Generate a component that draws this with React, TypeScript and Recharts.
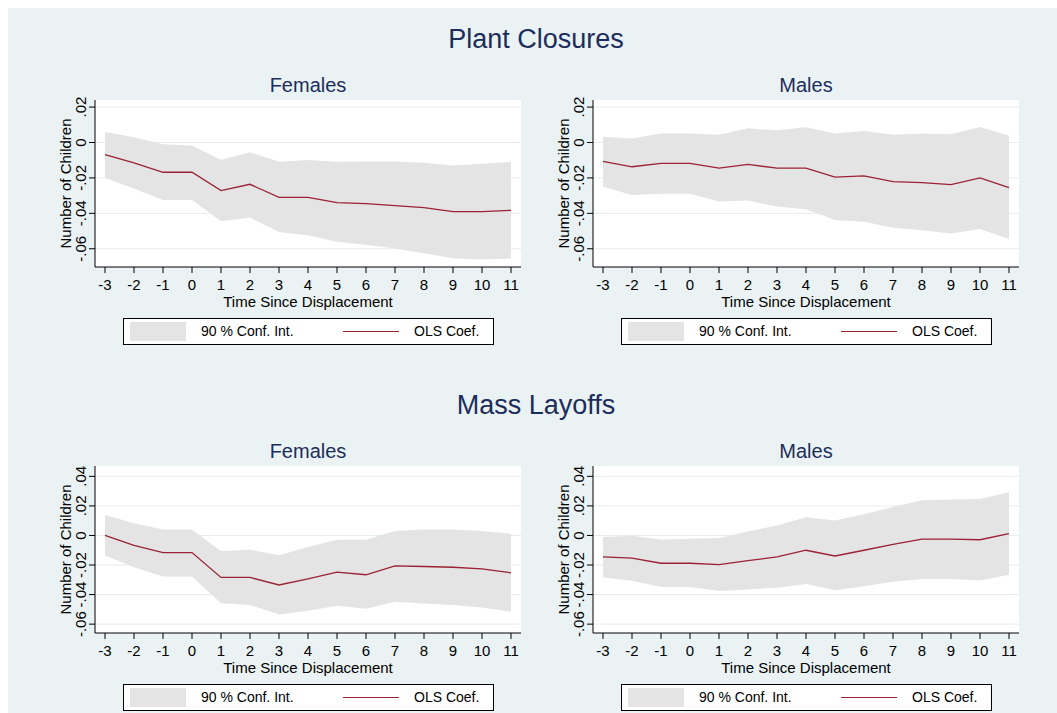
import { ComposedChart, Area, Line, XAxis, YAxis, CartesianGrid } from 'recharts'

const periods = [-3, -2, -1, 0, 1, 2, 3, 4, 5, 6, 7, 8, 9, 10, 11]

// Plant closures
const pcFemCoef = [-0.0069, -0.0115, -0.0168, -0.0168, -0.0272, -0.0236, -0.031, -0.031, -0.034, -0.0345, -0.0357, -0.0368, -0.039, -0.039, -0.0383]
const pcFemHigh = [0.006, 0.003, -0.001, -0.0017, -0.0097, -0.0055, -0.0109, -0.0099, -0.0109, -0.0107, -0.0107, -0.0114, -0.013, -0.012, -0.011]
const pcFemLow = [-0.02, -0.026, -0.0324, -0.0324, -0.0444, -0.0423, -0.0505, -0.0524, -0.056, -0.0577, -0.0598, -0.0625, -0.0653, -0.066, -0.0655]
const pcMalCoef = [-0.0107, -0.0137, -0.0118, -0.0118, -0.0145, -0.0124, -0.0145, -0.0145, -0.0196, -0.0189, -0.0221, -0.0227, -0.0238, -0.02, -0.0255]
const pcMalHigh = [0.0032, 0.0023, 0.0051, 0.0051, 0.0044, 0.008, 0.0069, 0.0086, 0.0051, 0.0065, 0.0044, 0.0051, 0.0046, 0.0088, 0.0038]
const pcMalLow = [-0.025, -0.0297, -0.029, -0.029, -0.0333, -0.0328, -0.0362, -0.0377, -0.0438, -0.0448, -0.0482, -0.0495, -0.0514, -0.0488, -0.0545]

// Mass layoffs
const mlFemCoef = [0, -0.0067, -0.0116, -0.0116, -0.0284, -0.0284, -0.0335, -0.0293, -0.0248, -0.0266, -0.0206, -0.021, -0.0215, -0.0226, -0.0253]
const mlFemHigh = [0.0139, 0.0083, 0.004, 0.004, -0.0107, -0.0096, -0.0134, -0.0078, -0.0029, -0.0029, 0.0031, 0.004, 0.004, 0.0031, 0.0011]
const mlFemLow = [-0.0136, -0.0215, -0.0277, -0.0277, -0.0458, -0.047, -0.0534, -0.051, -0.0476, -0.0496, -0.0449, -0.046, -0.047, -0.0487, -0.0516]
const mlMalCoef = [-0.0145, -0.0154, -0.0188, -0.0188, -0.0197, -0.017, -0.0145, -0.01, -0.0139, -0.01, -0.006, -0.0025, -0.0025, -0.0029, 0.0013]
const mlMalHigh = [-0.0011, -0.0002, -0.0027, -0.0022, -0.0018, 0.0027, 0.0067, 0.0123, 0.0101, 0.0143, 0.0192, 0.0239, 0.0244, 0.0246, 0.0293]
const mlMalLow = [-0.0282, -0.0306, -0.0349, -0.0349, -0.0375, -0.0366, -0.0353, -0.0329, -0.0371, -0.0344, -0.0313, -0.0295, -0.0295, -0.0304, -0.0266]

const pcTicks = [-0.06, -0.04, -0.02, 0, 0.02]
const mlTicks = [-0.06, -0.04, -0.02, 0, 0.02, 0.04]

const NAVY = '#1c2d5c'
const LINE = '#9b2232'
const BAND = '#e4e4e4'
const FONT = '"Liberation Sans", Arial, sans-serif'

const fmt = (v: number) => {
  if (v === 0) return '0'
  const s = Math.abs(v).toFixed(2).replace(/^0/, '')
  return (v < 0 ? '-' : '') + s
}

function YTick(props: any) {
  const { x, y, payload } = props
  const bx = x - 1
  return (
    <text x={bx} y={y} transform={`rotate(-90, ${bx}, ${y})`} textAnchor="middle" fontSize={15} fill="#000" fontFamily={FONT}>
      {fmt(payload.value)}
    </text>
  )
}

function Panel({ left, top, title, coef, high, low, ticks, domain }: any) {
  const data = periods.map((p, i) => ({ t: p, coef: coef[i], band: [low[i], high[i]] }))
  return (
    <div style={{ position: 'absolute', left, top, width: 520 }}>
      <div style={{ textAlign: 'center', paddingLeft: 75, paddingRight: 19, fontSize: 20, color: NAVY, fontFamily: FONT, height: 0, position: 'relative', top: -16 }}>{title}</div>
      <ComposedChart width={520} height={221} data={data} margin={{ top: 10, right: 19, left: 0, bottom: 0 }}>
        <CartesianGrid vertical={false} fill="#ffffff" stroke="#e4ecee" horizontalValues={ticks} />
        <XAxis
          dataKey="t"
          type="number"
          domain={[-3, 11]}
          ticks={periods}
          interval={0}
          padding={{ left: 10, right: 10 }}
          stroke="#000"
          tick={{ fill: '#000', fontSize: 15, fontFamily: FONT }}
          tickSize={6}
          tickMargin={6}
          height={44}
          label={{ value: 'Time Since Displacement', position: 'insideBottom', offset: 4, fill: '#000', fontSize: 15, fontFamily: FONT }}
        />
        <YAxis
          type="number"
          domain={domain}
          ticks={ticks}
          allowDataOverflow
          stroke="#000"
          width={75}
          tickSize={6}
          tick={<YTick />}
          label={{ value: 'Number of Children', angle: -90, position: 'insideLeft', offset: 46, fill: '#000', fontSize: 15, fontFamily: FONT, style: { textAnchor: 'middle' } }}
        />
        <Area dataKey="band" type="linear" stroke="none" fill={BAND} fillOpacity={1} isAnimationActive={false} />
        <Line dataKey="coef" type="linear" stroke={LINE} strokeWidth={1.3} dot={false} isAnimationActive={false} />
      </ComposedChart>
      <div style={{ position: 'absolute', left: 103, top: 228, width: 369, height: 25, background: '#fff', border: '1px solid #000', fontFamily: FONT, fontSize: 14 }}>
        <div style={{ position: 'absolute', left: 6, top: 3, width: 56, height: 19, background: BAND }} />
        <div style={{ position: 'absolute', left: 77, top: 4 }}>90 % Conf. Int.</div>
        <div style={{ position: 'absolute', left: 219, top: 12, width: 56, height: 0, borderTop: `1.5px solid ${LINE}` }} />
        <div style={{ position: 'absolute', left: 290, top: 4 }}>OLS Coef.</div>
      </div>
    </div>
  )
}

export default function App() {
  return (
    <div style={{ position: 'absolute', left: 0, top: 0, width: 1057, height: 713, background: '#fff' }}>
      <div style={{ position: 'absolute', left: 8, top: 8, width: 1049, height: 705, background: '#eaf2f3' }} />
      <div style={{ position: 'absolute', left: 0, top: 24, width: 1072, textAlign: 'center', fontSize: 27, color: NAVY, fontFamily: FONT }}>Plant Closures</div>
      <div style={{ position: 'absolute', left: 0, top: 390, width: 1072, textAlign: 'center', fontSize: 27, color: NAVY, fontFamily: FONT }}>Mass Layoffs</div>
      <Panel left={20} top={90} title="Females" coef={pcFemCoef} high={pcFemHigh} low={pcFemLow} ticks={pcTicks} domain={[-0.0703, 0.024]} />
      <Panel left={518} top={90} title="Males" coef={pcMalCoef} high={pcMalHigh} low={pcMalLow} ticks={pcTicks} domain={[-0.0703, 0.024]} />
      <Panel left={20} top={456} title="Females" coef={mlFemCoef} high={mlFemHigh} low={mlFemLow} ticks={mlTicks} domain={[-0.066, 0.047]} />
      <Panel left={518} top={456} title="Males" coef={mlMalCoef} high={mlMalHigh} low={mlMalLow} ticks={mlTicks} domain={[-0.066, 0.047]} />
    </div>
  )
}
